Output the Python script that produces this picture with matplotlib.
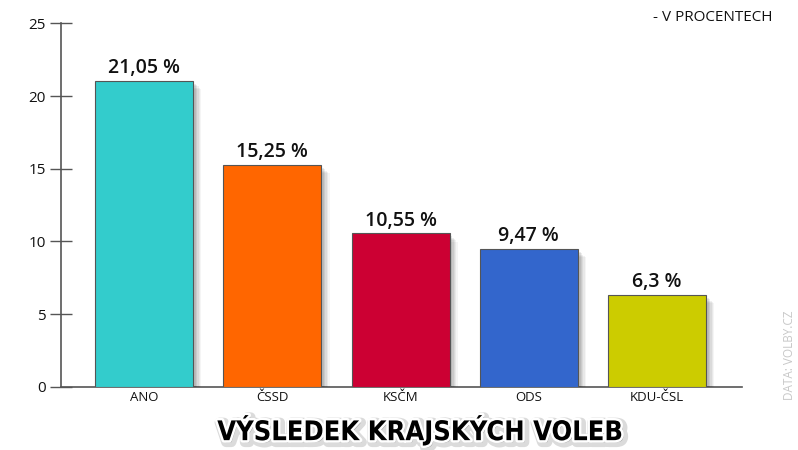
import matplotlib
matplotlib.use("Agg")
import matplotlib.pyplot as plt
import matplotlib.patheffects as pe

categories = ["ANO", "ČSSD", "KSČM", "ODS", "KDU-ČSL"]
values = [21.05, 15.25, 10.55, 9.47, 6.3]
value_labels = ["21,05 %", "15,25 %", "10,55 %", "9,47 %", "6,3 %"]
colors = ["#33CCCC", "#FF6600", "#CC0033", "#3366CC", "#CCCC00"]
yticks = [0, 5, 10, 15, 20, 25]

plt.rcParams['font.family'] = ['Open Sans', 'DejaVu Sans']

fig = plt.figure(figsize=(7.98, 4.5), dpi=100)
ax = fig.add_axes([0.0764, 0.1407, 0.8536, 0.8073])

x = list(range(len(categories)))
shadow = [pe.SimplePatchShadow(offset=(o, -o), shadow_rgbFace='black', alpha=a)
          for o, a in [(6, 0.04), (5, 0.05), (4, 0.06), (3, 0.07), (2, 0.08)]]
bars = ax.bar(x, values, width=0.764, color=colors, edgecolor='#555555', linewidth=0.8, zorder=3)
for b in bars:
    b.set_path_effects(shadow + [pe.Normal()])

for xi, v, lab in zip(x, values, value_labels):
    ax.annotate(lab, (xi, v), xytext=(0, 2), textcoords='offset points',
                ha='center', va='bottom', fontsize=14, fontweight=600,
                color='#111111', zorder=4)

ax.set_xlim(-0.647, 4.663)
ax.set_ylim(0, 25)
ax.set_yticks(yticks)
ax.set_yticklabels([str(t) for t in yticks], fontsize=11, color='#111111')
ax.set_xticks(x)
ax.set_xticklabels(categories, fontsize=9.5, color='#111111')
ax.tick_params(axis='x', length=0, pad=3)
ax.tick_params(axis='y', direction='inout', length=16, width=1, color='#555555', pad=3)

for s in ['top', 'right']:
    ax.spines[s].set_visible(False)
for s in ['left', 'bottom']:
    ax.spines[s].set_color('#555555')
    ax.spines[s].set_linewidth(1.2)

fig.text(0.968, 0.962, "- V PROCENTECH", ha='right', va='center', fontsize=11, color='#111111')
fig.text(0.989, 0.21, "DATA: VOLBY.CZ", rotation=90, ha='center', va='center',
         fontsize=8.5, color='#c8c8c8')

title = fig.text(0.527, 0.043, "VÝSLEDEK KRAJSKÝCH VOLEB", ha='center', va='center',
                 fontsize=19.5, fontweight='bold', fontstretch='condensed',
                 family=['DejaVu Sans'], color='black')
title.set_path_effects([
    pe.Stroke(linewidth=7, foreground='#999999', alpha=0.35, offset=(1.5, -1.5)),
    pe.Stroke(linewidth=3.5, foreground='white'),
    pe.Normal()])

fig.savefig("out.png", dpi=100)
